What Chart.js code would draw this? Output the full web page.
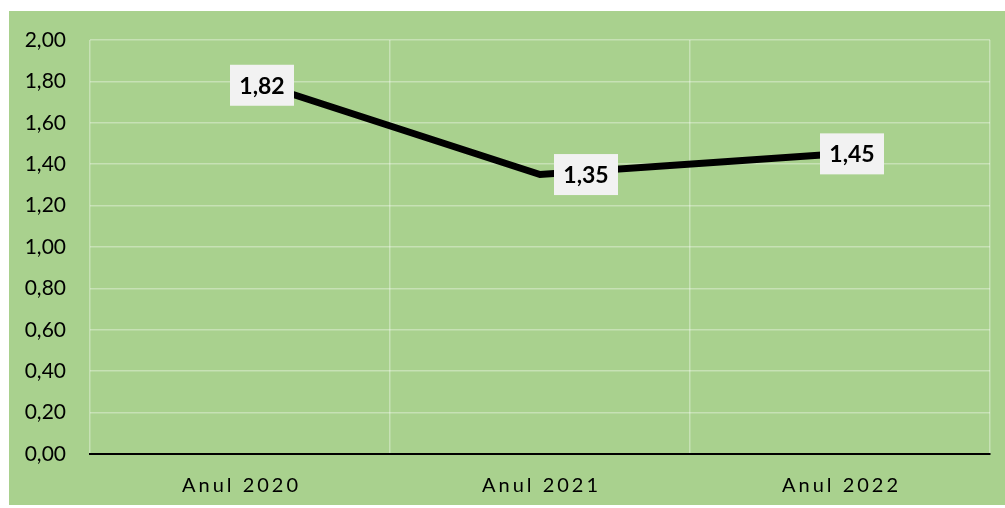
<!DOCTYPE html>
<html>
<head>
<meta charset="utf-8">
<script src="https://cdn.jsdelivr.net/npm/chart.js@4.4.0/dist/chart.umd.min.js"></script>
<style>
html,body{margin:0;padding:0;background:#fff;width:1005px;height:508px;overflow:hidden}
#wrap{position:absolute;left:9px;top:11px;width:996px;height:494px;background:#A9D18E}
</style>
</head>
<body>
<div id="wrap"><canvas id="c"></canvas></div>
<script>
const categories = ["Anul 2020", "Anul 2021", "Anul 2022"];
const values = [1.82, 1.35, 1.45];
const yMin = 0, yMax = 2, yStep = 0.2;

const fmt = v => v.toFixed(2).replace('.', ',');

const labelPlugin = {
  id: 'boxLabels',
  afterDatasetsDraw(chart, args, opts) {
    const ctx = chart.ctx;
    const meta = chart.getDatasetMeta(0);
    ctx.save();
    ctx.font = 'bold 23px Lato';
    ctx.textAlign = 'center';
    ctx.textBaseline = 'middle';
    meta.data.forEach((pt, i) => {
      const off = opts.offsets[i] || [0, 0];
      const cx = pt.x + off[0], cy = pt.y + off[1];
      ctx.fillStyle = '#F2F2F2';
      ctx.fillRect(cx - 32, cy - 20.5, 64, 41);
      ctx.fillStyle = '#000';
      ctx.fillText(fmt(values[i]), cx, cy + 1);
    });
    ctx.restore();
  }
};

const xLabelPlugin = {
  id: 'xLabels',
  afterDraw(chart) {
    const ctx = chart.ctx;
    const sx = chart.scales.x;
    ctx.save();
    ctx.font = '20px Lato';
    ctx.letterSpacing = '3px';
    ctx.fillStyle = '#000';
    ctx.textAlign = 'center';
    ctx.textBaseline = 'middle';
    categories.forEach((c, i) => {
      ctx.fillText(c, sx.getPixelForTick(i) + 1.5, chart.chartArea.bottom + 32);
    });
    ctx.restore();
  }
};

new Chart(document.getElementById('c'), {
  type: 'line',
  data: {
    labels: categories,
    datasets: [{
      data: values,
      borderColor: '#000',
      borderWidth: 7,
      pointRadius: 0,
      tension: 0,
      borderJoinStyle: 'miter'
    }]
  },
  options: {
    responsive: true,
    maintainAspectRatio: false,
    animation: false,
    layout: { padding: { top: 29, right: 15, bottom: 0, left: 0 } },
    plugins: {
      legend: { display: false },
      tooltip: { enabled: false },
      boxLabels: { offsets: [[22, 8], [46, 0], [12, 0]] }
    },
    scales: {
      x: {
        offset: true,
        grid: { offset: true, color: 'rgba(255,255,255,0.35)', lineWidth: 1.5, drawTicks: false },
        border: { display: true, color: '#000', width: 2 },
        ticks: { color: 'rgba(0,0,0,0)', font: { family: 'Lato', size: 20 } },
        afterFit: s => { s.height = 51; }
      },
      y: {
        min: yMin, max: yMax,
        grid: {
          color: c => c.tick.value === 0 ? '#000' : 'rgba(255,255,255,0.35)',
          lineWidth: c => c.tick.value === 0 ? 2 : 1.5,
          drawTicks: false
        },
        border: { display: false },
        ticks: {
          stepSize: yStep,
          color: '#000',
          padding: 24,
          font: { family: 'Lato', size: 21 },
          callback: v => fmt(v)
        },
        afterFit: s => { s.width = 81; s.paddingTop = 13; s.paddingBottom = 13; }
      }
    }
  },
  plugins: [labelPlugin, xLabelPlugin]
});
</script>
</body>
</html>
